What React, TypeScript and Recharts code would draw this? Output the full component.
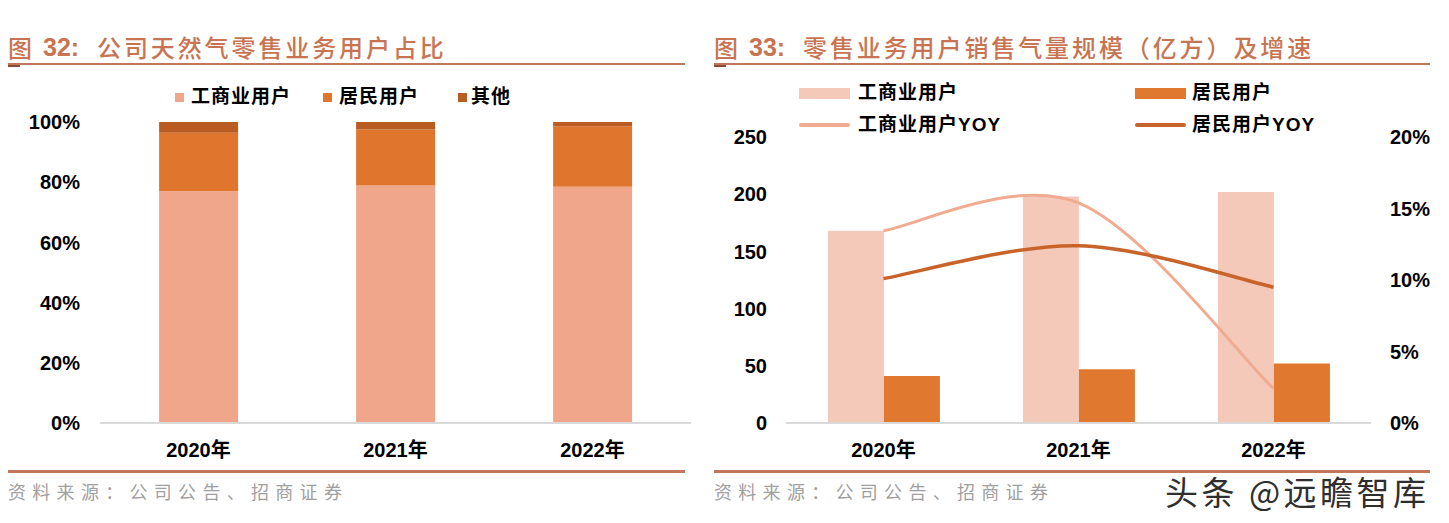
import React from "react";
import {
  BarChart,
  Bar,
  ComposedChart,
  Line,
  XAxis,
  YAxis,
} from "recharts";

// categories
const years = ["2020年", "2021年", "2022年"];

// fig 32: share of retail gas users (%)
const shareCommercial = [77.0, 78.9, 78.5];
const shareResidential = [19.4, 18.6, 20.1];
const shareOther = [3.6, 2.5, 1.4];

// fig 33: retail gas volume (亿方) and growth
const volCommercial = [168, 198, 202];
const volResidential = [41, 47, 52];
const yoyCommercial = [0.1345, 0.154, 0.024];
const yoyResidential = [0.101, 0.124, 0.095];

const leftTicks = [0, 20, 40, 60, 80, 100];
const volTicks = [0, 50, 100, 150, 200, 250];
const yoyTicks = [0, 0.05, 0.1, 0.15, 0.2];

const shareData = years.map((y, i) => ({
  year: y,
  commercial: shareCommercial[i],
  residential: shareResidential[i],
  other: shareOther[i],
}));

const volData = years.map((y, i) => ({
  year: y,
  commercial: volCommercial[i],
  residential: volResidential[i],
  yoyC: yoyCommercial[i],
  yoyR: yoyResidential[i],
}));

const LATIN = '"Liberation Sans", Arial, "Noto Sans CJK SC", sans-serif';
const CJK = '"Noto Sans CJK SC", "Liberation Sans", sans-serif';
const ACCENT = "#c3765a";
const TITLE = "#c87452";

// excel-like smoothing (catmull-rom as bezier segments)
function smoothCurve(context: any) {
  let pts: number[][] = [];
  return {
    areaStart() {},
    areaEnd() {},
    lineStart() {
      pts = [];
    },
    lineEnd() {
      const n = pts.length;
      if (!n) return;
      context.moveTo(pts[0][0], pts[0][1]);
      for (let i = 0; i < n - 1; i++) {
        const p0 = pts[Math.max(0, i - 1)];
        const p1 = pts[i];
        const p2 = pts[i + 1];
        const p3 = pts[Math.min(n - 1, i + 2)];
        context.bezierCurveTo(
          p1[0] + (p2[0] - p0[0]) / 6,
          p1[1] + (p2[1] - p0[1]) / 6,
          p2[0] - (p3[0] - p1[0]) / 6,
          p2[1] - (p3[1] - p1[1]) / 6,
          p2[0],
          p2[1]
        );
      }
    },
    point(x: number, y: number) {
      pts.push([+x, +y]);
    },
  };
}

const tickStyle = {
  fontSize: 20,
  fontWeight: 700,
  fill: "#000",
  fontFamily: LATIN,
};

const legendText: React.CSSProperties = {
  position: "absolute",
  fontFamily: LATIN,
  fontWeight: 700,
  fontSize: 19,
  letterSpacing: 1,
  color: "#000",
  lineHeight: "20px",
  whiteSpace: "nowrap",
};

const titleBase: React.CSSProperties = {
  position: "absolute",
  top: 31,
  fontWeight: 500,
  fontSize: 24,
  color: TITLE,
  lineHeight: "32px",
  whiteSpace: "nowrap",
};

function Title({ left, num, text }: { left: number; num: string; text: string }) {
  const w = left < 300 ? 677 : 716;
  return (
    <>
      <div style={{ ...titleBase, left, fontFamily: CJK }}>图</div>
      <div style={{ ...titleBase, left: left + 35, fontFamily: LATIN, fontSize: 25, fontWeight: 700 }}>
        {num}:
      </div>
      <div style={{ ...titleBase, left: left + 89, fontFamily: CJK, letterSpacing: 2.9 }}>
        {text}
      </div>
      <div style={{ position: "absolute", left, top: 63, width: w, height: 2, background: ACCENT }} />
      <div style={{ position: "absolute", left, top: 65, width: 12, height: 2, background: "#8a4a35" }} />
      <div style={{ position: "absolute", left, top: 470, width: w, height: 3, background: ACCENT }} />
      <div
        style={{
          position: "absolute",
          left,
          top: 479,
          fontFamily: CJK,
          fontSize: 18,
          letterSpacing: 6.3,
          color: "#a0a0a0",
          lineHeight: "24px",
          whiteSpace: "nowrap",
        }}
      >
        资料来源：公司公告、招商证券
      </div>
    </>
  );
}

export default function App() {
  return (
    <div
      style={{
        position: "absolute",
        left: 0,
        top: 0,
        width: 1449,
        height: 523,
        background: "#fff",
        overflow: "hidden",
      }}
    >
      <Title left={8} num="32" text="公司天然气零售业务用户占比" />
      <Title left={714} num="33" text="零售业务用户销售气量规模（亿方）及增速" />

      {/* left legend */}
      <div style={{ position: "absolute", left: 175, top: 93, width: 9, height: 9, background: "#f0a68a" }} />
      <div style={{ ...legendText, left: 191, top: 87 }}>工商业用户</div>
      <div style={{ position: "absolute", left: 323, top: 93, width: 9, height: 9, background: "#e0752d" }} />
      <div style={{ ...legendText, left: 339, top: 87 }}>居民用户</div>
      <div style={{ position: "absolute", left: 458, top: 93, width: 9, height: 9, background: "#b85c22" }} />
      <div style={{ ...legendText, left: 471, top: 87 }}>其他</div>

      <div style={{ position: "absolute", left: 0, top: 70 }}>
        <BarChart
          width={700}
          height={400}
          data={shareData}
          margin={{ top: 52, right: 9, bottom: 17, left: 0 }}
          barCategoryGap="30%"
        >
          <XAxis
            dataKey="year"
            axisLine={{ stroke: "#d9d9d9", strokeWidth: 2 }}
            tickLine={false}
            tickSize={0}
            tickMargin={20}
            tick={tickStyle}
          />
          <YAxis
            width={100}
            domain={[0, 100]}
            ticks={leftTicks}
            axisLine={false}
            tickLine={false}
            tickSize={0}
            tickMargin={20}
            tick={tickStyle}
            tickFormatter={(v: number) => `${v}%`}
          />
          <Bar dataKey="commercial" stackId="s" fill="#f0a68a" isAnimationActive={false} />
          <Bar dataKey="residential" stackId="s" fill="#e0752d" isAnimationActive={false} />
          <Bar dataKey="other" stackId="s" fill="#b85c22" isAnimationActive={false} />
        </BarChart>
      </div>

      {/* right legend */}
      <div style={{ position: "absolute", left: 799, top: 88, width: 51, height: 11, background: "#f5c9ba" }} />
      <div style={{ ...legendText, left: 858, top: 83 }}>工商业用户</div>
      <div style={{ position: "absolute", left: 1135, top: 88, width: 51, height: 11, background: "#e07830" }} />
      <div style={{ ...legendText, left: 1192, top: 83 }}>居民用户</div>
      <div style={{ position: "absolute", left: 799, top: 123, width: 51, height: 4, background: "#f0ab90", borderRadius: 2 }} />
      <div style={{ ...legendText, left: 858, top: 115 }}>工商业用户YOY</div>
      <div style={{ position: "absolute", left: 1135, top: 123, width: 51, height: 4, background: "#c8642a", borderRadius: 2 }} />
      <div style={{ ...legendText, left: 1192, top: 115 }}>居民用户YOY</div>

      <div
        style={{
          position: "absolute",
          left: 700,
          top: 70,
          width: 730,
          height: 400,
          overflow: "hidden",
        }}
      >
        <ComposedChart
          width={749}
          height={400}
          data={volData}
          margin={{ top: 67, right: 0, bottom: 17, left: 0 }}
          barCategoryGap="21.5%"
          barGap={0}
        >
          <XAxis
            dataKey="year"
            axisLine={{ stroke: "#d9d9d9", strokeWidth: 2 }}
            tickLine={false}
            tickSize={0}
            tickMargin={20}
            tick={tickStyle}
          />
          <YAxis
            yAxisId="vol"
            width={86}
            domain={[0, 250]}
            ticks={volTicks}
            axisLine={false}
            tickLine={false}
            tickSize={0}
            tickMargin={19}
            tick={tickStyle}
          />
          <YAxis
            yAxisId="yoy"
            orientation="right"
            width={78}
            domain={[0, 0.2]}
            ticks={yoyTicks}
            axisLine={false}
            tickLine={false}
            tickSize={0}
            tickMargin={19}
            tick={tickStyle}
            tickFormatter={(v: number) => `${Math.round(v * 100)}%`}
          />
          <Bar yAxisId="vol" dataKey="commercial" fill="#f5c9ba" isAnimationActive={false} />
          <Bar yAxisId="vol" dataKey="residential" fill="#e07830" isAnimationActive={false} />
          <Line
            yAxisId="yoy"
            type={smoothCurve as any}
            dataKey="yoyC"
            stroke="#f0ab90"
            strokeWidth={3}
            dot={false}
            activeDot={false}
            isAnimationActive={false}
          />
          <Line
            yAxisId="yoy"
            type={smoothCurve as any}
            dataKey="yoyR"
            stroke="#c8642a"
            strokeWidth={3.5}
            dot={false}
            activeDot={false}
            isAnimationActive={false}
          />
        </ComposedChart>
      </div>

      {/* watermark */}
      <div
        style={{
          position: "absolute",
          left: 1165,
          top: 471,
          fontFamily: CJK,
          fontWeight: 400,
          fontSize: 33,
          letterSpacing: 3.5,
          color: "#2e2e2e",
          lineHeight: "40px",
          whiteSpace: "nowrap",
          textShadow: "0 0 2px #fff",
        }}
      >
        头条 @远瞻智库
      </div>
    </div>
  );
}
